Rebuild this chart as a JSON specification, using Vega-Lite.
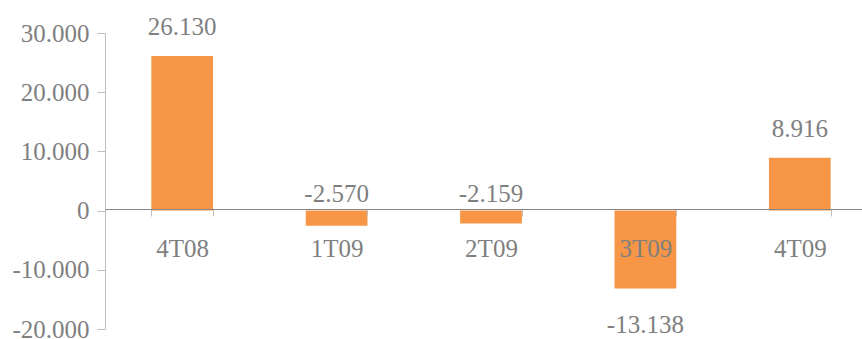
{
  "$schema": "https://vega.github.io/schema/vega-lite/v6.json",
  "autosize": {"type": "none"},
  "padding": {"left": 105, "top": 33, "right": 0, "bottom": 10},
  "width": 757,
  "height": 296,
  "config": {
    "view": {"stroke": null},
    "locale": {"number": {"decimal": ",", "thousands": ".", "grouping": [3], "currency": ["", ""], "minus": "-"}},
    "axis": {"labelFont": "Liberation Serif", "labelFontSize": 25, "labelColor": "#7f7f7f", "grid": false, "title": null}
  },
  "data": {"values": [
    {"trimestre": "4T08", "valor": 26130},
    {"trimestre": "1T09", "valor": -2570},
    {"trimestre": "2T09", "valor": -2159},
    {"trimestre": "3T09", "valor": -13138},
    {"trimestre": "4T09", "valor": 8916}
  ]},
  "encoding": {
    "x": {"field": "trimestre", "type": "nominal", "sort": null,
      "scale": {"range": [0, 772], "paddingInner": 0.6, "paddingOuter": 0.3},
      "axis": {"orient": "bottom", "offset": -120, "zindex": 1, "labelAngle": 0, "domainColor": "#868686", "tickColor": "#bfbfbf", "tickSize": 7, "tickBand": "extent", "labelPadding": 20, "labelBaseline": "top"}
    }
  },
  "layer": [
    {
      "mark": {"type": "bar", "color": "#F79646"},
      "encoding": {
        "y": {"field": "valor", "type": "quantitative",
          "scale": {"domain": [-20000, 30000], "nice": false, "zero": true},
          "axis": {"values": [-20000, -10000, 0, 10000, 20000, 30000], "format": ",d", "domainColor": "#bfbfbf", "tickColor": "#bfbfbf", "tickSize": 8, "labelPadding": 8}
        }
      }
    },
    {
      "transform": [{"calculate": "datum.valor > 0 ? datum.valor + 3500 : (datum.valor > -5000 ? 1400 : datum.valor - 7500)", "as": "pos"}],
      "mark": {"type": "text", "font": "Liberation Serif", "fontSize": 25, "color": "#7f7f7f", "baseline": "alphabetic", "align": "center"},
      "encoding": {
        "y": {"field": "pos", "type": "quantitative"},
        "text": {"field": "valor", "type": "quantitative", "format": ",d"}
      }
    }
  ]
}
